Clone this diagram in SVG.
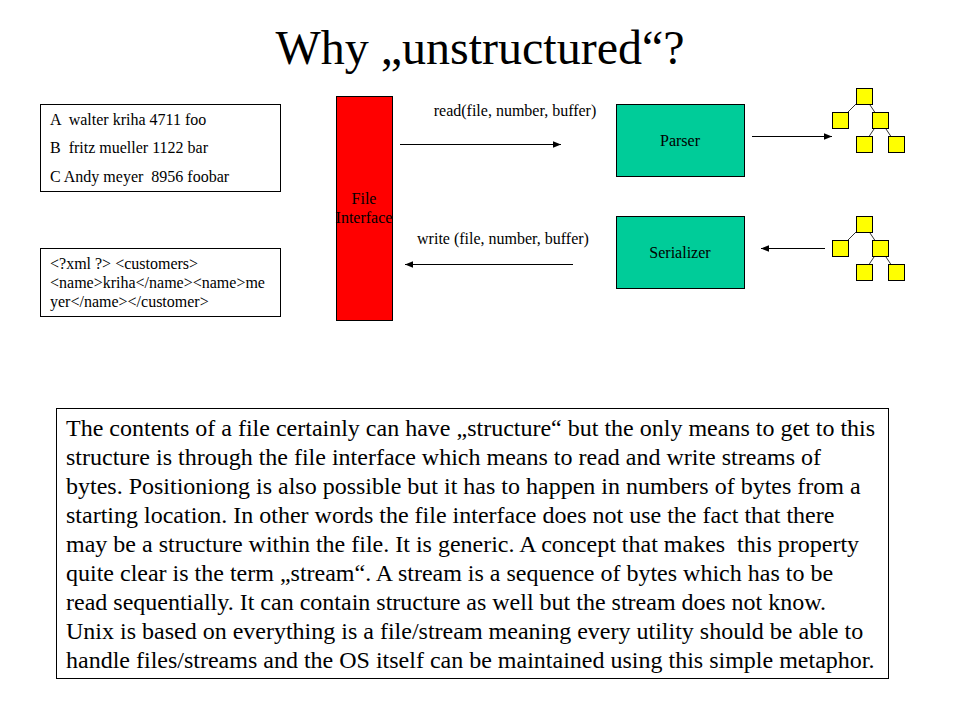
<svg xmlns="http://www.w3.org/2000/svg" width="960" height="720" viewBox="0 0 960 720">
<style>
text{font-family:"Liberation Serif","Times New Roman",serif;fill:#000}
.sm{font-size:16px}
.body{font-size:24px}
.box{fill:#fff;stroke:#000;stroke-width:1}
.green{fill:#00cc99;stroke:#000;stroke-width:1}
.sq{fill:#ffff00;stroke:#000;stroke-width:1}
.tl{stroke:#333;stroke-width:1}
.conn{stroke:#000;stroke-width:1;fill:none}
</style>
<defs>
<marker id="ah" viewBox="0 0 10 10" refX="10" refY="5" markerWidth="10" markerHeight="8" markerUnits="userSpaceOnUse" orient="auto">
<path d="M0,1 L10,5 L0,9 z" fill="#000"/>
</marker>
</defs>
<rect width="960" height="720" fill="#fff"/>
<text id="title" x="480" y="64" text-anchor="middle" font-size="48">Why „unstructured“?</text>

<g id="flatfile">
<rect class="box" x="40.5" y="104.5" width="240" height="87"/>
<text class="sm" x="50" y="125" xml:space="preserve">A  walter kriha 4711 foo</text>
<text class="sm" x="50" y="153" xml:space="preserve">B  fritz mueller 1122 bar</text>
<text class="sm" x="50" y="182" xml:space="preserve">C Andy meyer  8956 foobar</text>
</g>

<g id="xmlfile">
<rect class="box" x="40.5" y="248.5" width="240" height="68"/>
<text class="sm" x="50" y="269">&lt;?xml ?&gt; &lt;customers&gt;</text>
<text class="sm" x="50" y="288">&lt;name&gt;kriha&lt;/name&gt;&lt;name&gt;me</text>
<text class="sm" x="50" y="307">yer&lt;/name&gt;&lt;/customer&gt;</text>
</g>

<g id="fileinterface">
<rect x="336.5" y="96.5" width="56" height="224" fill="#ff0000" stroke="#000"/>
<text class="sm" x="364" y="204" text-anchor="middle">File</text>
<text class="sm" x="364" y="223" text-anchor="middle">Interface</text>
</g>

<g id="parser">
<rect class="green" x="616.5" y="104.5" width="128" height="72"/>
<text class="sm" x="680" y="146" text-anchor="middle">Parser</text>
</g>

<g id="serializer">
<rect class="green" x="616.5" y="216.5" width="128" height="72"/>
<text class="sm" x="680" y="258" text-anchor="middle">Serializer</text>
</g>

<g id="tree1">
<line class="tl" x1="864" y1="96" x2="840" y2="120"/>
<line class="tl" x1="864" y1="96" x2="880" y2="120"/>
<line class="tl" x1="880" y1="120" x2="864" y2="144"/>
<line class="tl" x1="880" y1="120" x2="896" y2="144"/>
<rect class="sq" x="856.5" y="88.5" width="16" height="16"/>
<rect class="sq" x="832.5" y="112.5" width="16" height="16"/>
<rect class="sq" x="872.5" y="112.5" width="16" height="16"/>
<rect class="sq" x="856.5" y="136.5" width="16" height="16"/>
<rect class="sq" x="888.5" y="136.5" width="16" height="16"/>
</g>

<g id="tree2">
<line class="tl" x1="864" y1="224" x2="840" y2="248"/>
<line class="tl" x1="864" y1="224" x2="880" y2="248"/>
<line class="tl" x1="880" y1="248" x2="864" y2="272"/>
<line class="tl" x1="880" y1="248" x2="896" y2="272"/>
<rect class="sq" x="856.5" y="216.5" width="16" height="16"/>
<rect class="sq" x="832.5" y="240.5" width="16" height="16"/>
<rect class="sq" x="872.5" y="240.5" width="16" height="16"/>
<rect class="sq" x="856.5" y="264.5" width="16" height="16"/>
<rect class="sq" x="888.5" y="264.5" width="16" height="16"/>
</g>

<g id="connectors">
<line class="conn" x1="400" y1="144.5" x2="561" y2="144.5" marker-end="url(#ah)"/>
<text class="sm" x="515" y="116" text-anchor="middle">read(file, number, buffer)</text>
<line class="conn" x1="573" y1="264.5" x2="405" y2="264.5" marker-end="url(#ah)"/>
<text class="sm" x="503" y="244" text-anchor="middle">write (file, number, buffer)</text>
<line class="conn" x1="752" y1="136.5" x2="832" y2="136.5" marker-end="url(#ah)"/>
<line class="conn" x1="825" y1="248.5" x2="761" y2="248.5" marker-end="url(#ah)"/>
</g>

<g id="description">
<rect class="box" x="56.5" y="408.5" width="832" height="270"/>
<text class="body" x="66" y="436">The contents of a file certainly can have „structure“ but the only means to get to this</text>
<text class="body" x="66" y="465">structure is through the file interface which means to read and write streams of</text>
<text class="body" x="66" y="494">bytes. Positioniong is also possible but it has to happen in numbers of bytes from a</text>
<text class="body" x="66" y="523">starting location. In other words the file interface does not use the fact that there</text>
<text class="body" x="66" y="552" xml:space="preserve">may be a structure within the file. It is generic. A concept that makes  this property</text>
<text class="body" x="66" y="581">quite clear is the term „stream“. A stream is a sequence of bytes which has to be</text>
<text class="body" x="66" y="610">read sequentially. It can contain structure as well but the stream does not know.</text>
<text class="body" x="66" y="639">Unix is based on everything is a file/stream meaning every utility should be able to</text>
<text class="body" x="66" y="668">handle files/streams and the OS itself can be maintained using this simple metaphor.</text>
</g>
</svg>
